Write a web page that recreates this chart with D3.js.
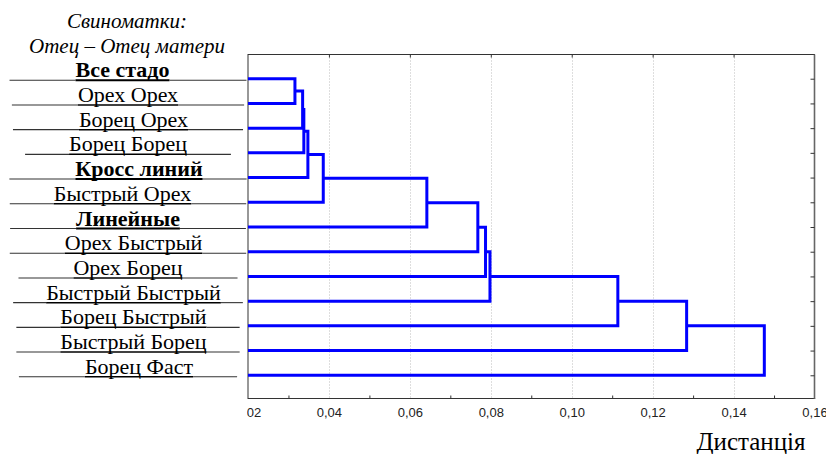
<!DOCTYPE html>
<html>
<head>
<meta charset="utf-8">
<script src="https://cdn.jsdelivr.net/npm/d3@7"></script>
<style>
  html, body { margin: 0; padding: 0; background: #fff; }
  svg { display: block; }
</style>
</head>
<body>
<svg id="chart" width="826" height="454"></svg>
<script>
// Case names as they appear on the tree (underscore padding is part of the text)
const caseLabels = [
  "______Все стадо_______",
  "______Орех Орех______",
  "______Борец Орех_____",
  "____Борец Борец____",
  "______Кросс линий____",
  "____Быстрый Орех_____",
  "______Линейные______",
  "_____Орех Быстрый____",
  "_____Орех Борец_____",
  "___Быстрый Быстрый__",
  "____Борец Быстрый___",
  "____Быстрый Борец___",
  "______Борец Фаст____"
];
const boldCases = ["Все стадо", "Кросс линий", "Линейные"];
const headerLines = ["Свиноматки:", "Отец – Отец матери"];

// Linkage table: [clusterA, clusterB, distance];
// ids >= caseLabels.length refer to clusters formed in earlier rows
const linkage = [
  [0, 1, 0.0316],
  [13, 2, 0.0335],
  [14, 3, 0.0338],
  [15, 4, 0.0348],
  [16, 5, 0.0386],
  [17, 6, 0.0642],
  [18, 7, 0.0768],
  [19, 8, 0.0787],
  [20, 9, 0.0798],
  [21, 10, 0.1114],
  [22, 11, 0.1284],
  [23, 12, 0.1476]
];

const majorTicks = [0.02, 0.04, 0.06, 0.08, 0.10, 0.12, 0.14, 0.16];
const minorTicks = [0.03, 0.05, 0.07, 0.09, 0.11, 0.13, 0.15];
const axisTitle = "Дистанція";

// ---- layout ----
const svg = d3.select("#chart");
const plot = { left: 248, right: 814.5, top: 54.5, bottom: 398.5 };
const serif = "'Liberation Serif', 'Times New Roman', serif";
const sans = "'Liberation Sans', Arial, sans-serif";

svg.append("rect").attr("width", 826).attr("height", 454).attr("fill", "#fff");

const x = d3.scaleLinear()
  .domain([majorTicks[0], majorTicks[majorTicks.length - 1]])
  .range([plot.left, plot.right])
  .clamp(true);

const y = d3.scalePoint()
  .domain(d3.range(caseLabels.length))
  .range([54, 400])
  .padding(1);

const decimalComma = d3.formatLocale({ decimal: ",", thousands: " ", grouping: [3], currency: ["", ""] });
const fmt = decimalComma.format(".2f");

// dotted grid at interior major ticks
svg.append("g")
  .selectAll("line")
  .data(majorTicks.slice(1, -1))
  .join("line")
  .attr("x1", d => Math.round(x(d)) + 0.5)
  .attr("x2", d => Math.round(x(d)) + 0.5)
  .attr("y1", plot.top)
  .attr("y2", plot.bottom)
  .attr("stroke", "#bdbdbd")
  .attr("stroke-dasharray", "1,2");

// frame
svg.append("rect")
  .attr("x", plot.left).attr("y", plot.top)
  .attr("width", plot.right - plot.left).attr("height", plot.bottom - plot.top)
  .attr("fill", "none").attr("stroke", "#333").attr("stroke-width", 1);
svg.append("line")
  .attr("x1", plot.right).attr("x2", plot.right)
  .attr("y1", plot.top).attr("y2", plot.bottom + 0.5)
  .attr("stroke", "#666").attr("stroke-width", 1.6);

// bottom axis with labels (left-most label is cut at the plot edge)
svg.append("clipPath").attr("id", "tickclip")
  .append("rect").attr("x", plot.left - 1).attr("y", 0).attr("width", 826).attr("height", 454);

const gBottom = svg.append("g")
  .attr("transform", `translate(0,${plot.bottom})`)
  .call(d3.axisBottom(x).tickValues(majorTicks).tickSize(-4).tickSizeOuter(0).tickPadding(9).tickFormat(fmt));
gBottom.select(".domain").remove();
gBottom.selectAll("line").attr("stroke", "#333");
gBottom.attr("clip-path", "url(#tickclip)");
gBottom.selectAll("text").attr("font-family", sans).attr("font-size", 13).attr("fill", "#222");

const gMinor = svg.append("g")
  .attr("transform", `translate(0,${plot.bottom})`)
  .call(d3.axisBottom(x).tickValues(minorTicks).tickSize(-3).tickSizeOuter(0).tickFormat(""));
gMinor.select(".domain").remove();
gMinor.selectAll("line").attr("stroke", "#333");

const gTop = svg.append("g")
  .attr("transform", `translate(0,${plot.top})`)
  .call(d3.axisTop(x).tickValues(majorTicks.slice(1, -1)).tickSize(-3).tickSizeOuter(0).tickFormat(""));
gTop.select(".domain").remove();
gTop.selectAll("line").attr("stroke", "#333");

const gRight = svg.append("g")
  .attr("transform", `translate(${plot.right},0)`)
  .call(d3.axisRight(y).tickSize(-4).tickSizeOuter(0).tickFormat(""));
gRight.select(".domain").remove();
gRight.selectAll("line").attr("stroke", "#333");

// ---- dendrogram ----
const n = caseLabels.length;
const nodes = caseLabels.map((_, i) => ({ y: y(i), h: 0 }));
linkage.forEach(([a, b, h]) => {
  nodes.push({ y: (nodes[a].y + nodes[b].y) / 2, h, a, b });
});

svg.append("g")
  .selectAll("path")
  .data(nodes.slice(n))
  .join("path")
  .attr("d", d => {
    const A = nodes[d.a], B = nodes[d.b];
    return `M${x(A.h)},${A.y}H${x(d.h)}V${B.y}H${x(B.h)}`;
  })
  .attr("fill", "none")
  .attr("stroke", "#0000ff")
  .attr("stroke-width", 3)
  .attr("stroke-linejoin", "miter");

// ---- case labels ----
// underscore padding keeps its width but is drawn as a rule level with the name's underline
const labelG = svg.append("g")
  .attr("font-family", serif)
  .attr("font-size", 22)
  .attr("fill", "#000");
const ruleG = svg.append("g");
const labelCx = 128;

caseLabels.forEach((label, i) => {
  const [, lead, name, trail] = label.match(/^(_*)(.*?)(_*)$/);
  const bold = boldCases.includes(name);
  const base = y(i) - 1.5;
  const t = labelG.append("text")
    .attr("x", labelCx)
    .attr("y", base)
    .attr("text-anchor", "middle");
  const sLead = t.append("tspan").text(lead).attr("fill-opacity", 0);
  const sName = t.append("tspan").text(name).attr("font-weight", bold ? "bold" : "normal");
  const sTrail = t.append("tspan").text(trail).attr("fill-opacity", 0);

  const wLead = lead ? sLead.node().getComputedTextLength() : 0;
  const wName = sName.node().getComputedTextLength();
  const wTrail = trail ? sTrail.node().getComputedTextLength() : 0;
  const x0 = labelCx - (wLead + wName + wTrail) / 2;
  const uy = base + 3;

  const segs = [
    { a: x0, b: x0 + wLead, w: 1.1, c: "#333" },
    { a: x0 + wLead, b: x0 + wLead + wName, w: bold ? 2 : 1.5, c: "#000" },
    { a: x0 + wLead + wName, b: x0 + wLead + wName + wTrail, w: 1.1, c: "#333" }
  ].filter(s => s.b > s.a);

  ruleG.selectAll(null)
    .data(segs)
    .join("line")
    .attr("x1", s => s.a).attr("x2", s => s.b)
    .attr("y1", uy).attr("y2", uy)
    .attr("stroke", s => s.c)
    .attr("stroke-width", s => s.w);
});

// ---- header ----
svg.append("g")
  .selectAll("text")
  .data(headerLines)
  .join("text")
  .attr("x", 127)
  .attr("y", (d, i) => 28 + i * 25)
  .attr("text-anchor", "middle")
  .attr("font-family", serif)
  .attr("font-style", "italic")
  .attr("font-size", 21)
  .text(d => d);

// ---- axis title ----
svg.append("text")
  .attr("x", 751)
  .attr("y", 450)
  .attr("text-anchor", "middle")
  .attr("font-family", serif)
  .attr("font-size", 25)
  .text(axisTitle);
</script>
</body>
</html>
